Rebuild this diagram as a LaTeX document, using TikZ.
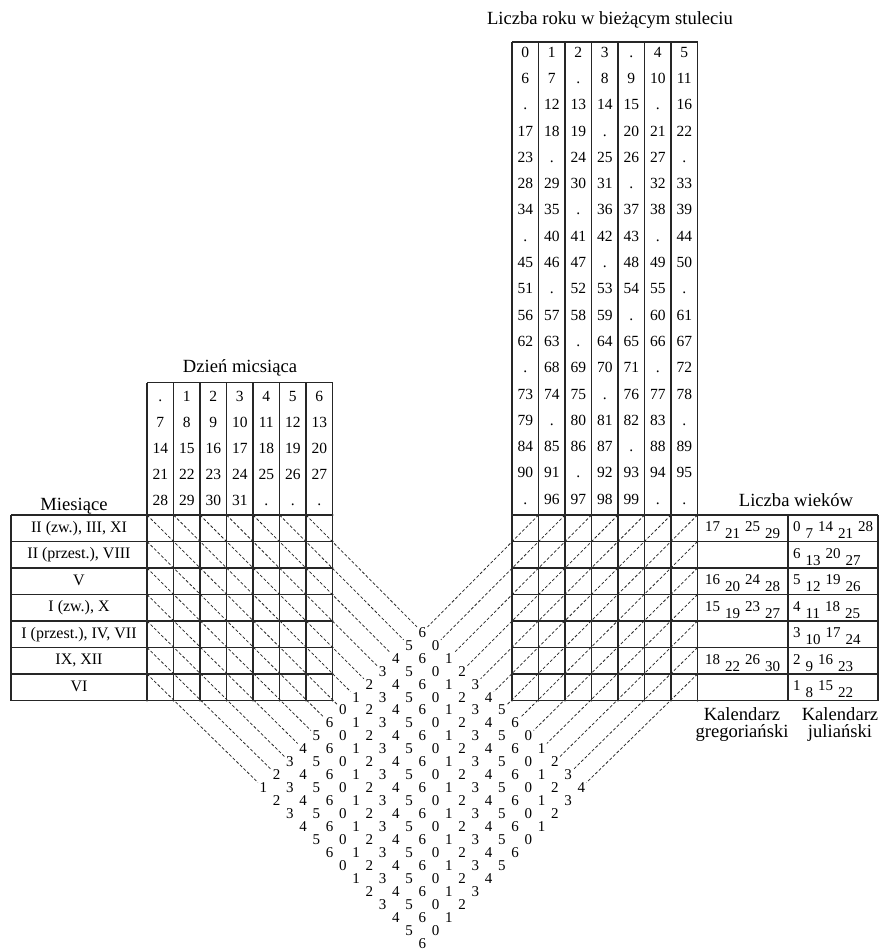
\documentclass[tikz,border=0pt]{standalone}
\usepackage{fontspec}
\setmainfont{Liberation Serif}
\newcommand{\wklo}[1]{\raisebox{-7pt}{#1}}
\newcommand{\wkg}{\hspace{5pt}}
\begin{document}
\begin{tikzpicture}[x=1pt,y=-1pt,
  gridline/.style={line width=1.2pt, draw=black!85},
  diag/.style={line width=0.75pt, dash pattern=on 3pt off 2pt, draw=black!85},
  num/.style={font=\fontsize{15.5}{17}\selectfont, text height=10.5pt, text depth=0pt, inner sep=0pt},
  ttl/.style={font=\fontsize{18.6}{20}\selectfont, inner sep=0pt, anchor=base},
  month/.style={font=\fontsize{16}{18}\selectfont, text height=11pt, text depth=3pt, inner sep=0pt},
  tri/.style={font=\fontsize{15}{17}\selectfont, text height=10pt, text depth=0pt, inner sep=1.4pt},
  wk/.style={font=\fontsize{15}{17}\selectfont, inner sep=0pt, anchor=base west},
  dot/.style={fill=black!80, draw=none},
]
\useasboundingbox (0,0) rectangle (880,950);
\fill[white] (0,0) rectangle (880,950);

% ---------- left: day table + month grid ----------
\foreach \c in {0,...,7} \draw[gridline] ({147+\c*26.5},382.5) -- ({147+\c*26.5},700.5);
\foreach \r in {0,...,7} \draw[gridline] (11,{515+\r*26.5}) -- (332.5,{515+\r*26.5});
\draw[gridline] (147,382.5) -- (332.5,382.5);
\draw[gridline] (11,515) -- (11,700.5);

% ---------- right: year table + grid + centuries ----------
\foreach \c in {0,...,7} \draw[gridline] ({512+\c*26.5},42) -- ({512+\c*26.5},700.5);
\draw[gridline] (512,42) -- (697.5,42);
\foreach \r in {0,...,7} \draw[gridline] (512,{515+\r*26.5}) -- (878,{515+\r*26.5});
\draw[gridline] (788,515) -- (788,700.5);
\draw[gridline] (878,515) -- (878,700.5);

% vertex dots
\foreach \c in {0,...,7} \foreach \r in {0,...,7} {
  \fill[dot] ({147+\c*26.5},{515+\r*26.5}) circle (1.2);
  \fill[dot] ({512+\c*26.5},{515+\r*26.5}) circle (1.2);
}

% ---------- titles ----------
\node[ttl] (tyear) at (610,25) {Liczba roku w bieżącym stuleciu};
\node[ttl] (tday) at (240,372.5) {Dzień micsiąca};
\node[ttl] (tmon) at (74,510) {Miesiące};
\node[ttl] (tcent) at (796,506) {Liczba wieków};
\node[ttl] (kg1) at (742,720) {Kalendarz};
\node[ttl] (kg2) at (742,737) {gregoriański};
\node[ttl] (kj1) at (840,720) {Kalendarz};
\node[ttl] (kj2) at (840,737) {juliański};

% ---------- year table ----------
\foreach \row [count=\k from 0] in {
 {0,1,2,3,.,4,5},{6,7,.,8,9,10,11},{.,12,13,14,15,.,16},{17,18,19,.,20,21,22},
 {23,.,24,25,26,27,.},{28,29,30,31,.,32,33},{34,35,.,36,37,38,39},{.,40,41,42,43,.,44},
 {45,46,47,.,48,49,50},{51,.,52,53,54,55,.},{56,57,58,59,.,60,61},{62,63,.,64,65,66,67},
 {.,68,69,70,71,.,72},{73,74,75,.,76,77,78},{79,.,80,81,82,83,.},{84,85,86,87,.,88,89},
 {90,91,.,92,93,94,95},{.,96,97,98,99,.,.}} {
  \foreach \v [count=\c from 0] in \row {
    \node[num] (y\k-\c) at ({525.25+\c*26.5},{52+\k*26.29}) {\v};
  }
}

% ---------- day table ----------
\foreach \row [count=\k from 0] in {
 {.,1,2,3,4,5,6},{7,8,9,10,11,12,13},{14,15,16,17,18,19,20},{21,22,23,24,25,26,27},{28,29,30,31,.,.,.}} {
  \foreach \v [count=\c from 0] in \row {
    \node[num] (d\k-\c) at ({160.25+\c*26.5},{396.5+\k*26}) {\v};
  }
}

% ---------- months ----------
\foreach \t [count=\k from 0] in {{II (zw.), III, XI},{II (przest.), VIII},{V},{I (zw.), X},{I (przest.), IV, VII},{IX, XII},{VI}} {
  \node[month] (mo\k) at (79,{528.25+\k*26.5}) {\t};
}

% ---------- centuries ----------
\node[wk] (g0) at (705,531.5) {17\wkg\wklo{21}\wkg 25\wkg\wklo{29}};
\node[wk] (g2) at (705,584.5) {16\wkg\wklo{20}\wkg 24\wkg\wklo{28}};
\node[wk] (g3) at (705,611.0) {15\wkg\wklo{19}\wkg 23\wkg\wklo{27}};
\node[wk] (g5) at (705,664.0) {18\wkg\wklo{22}\wkg 26\wkg\wklo{30}};
\node[wk] (j0) at (793,531.5) {0\wkg\wklo{7}\wkg 14\wkg\wklo{21}\wkg 28};
\node[wk] (j1) at (793,558.0) {6\wkg\wklo{13}\wkg 20\wkg\wklo{27}};
\node[wk] (j2) at (793,584.5) {5\wkg\wklo{12}\wkg 19\wkg\wklo{26}};
\node[wk] (j3) at (793,611.0) {4\wkg\wklo{11}\wkg 18\wkg\wklo{25}};
\node[wk] (j4) at (793,637.5) {3\wkg\wklo{10}\wkg 17\wkg\wklo{24}};
\node[wk] (j5) at (793,664.0) {2\wkg\wklo{9}\wkg 16\wkg\wklo{23}};
\node[wk] (j6) at (793,690.5) {1\wkg\wklo{8}\wkg 15\wkg\wklo{22}};

% ---------- diamond of weekday digits ----------
\foreach \m in {1,...,13} \foreach \i in {0,...,12} {
  \pgfmathtruncatemacro{\v}{mod(\m+\i,7)}
  \node[tri] (p\m-\i) at ({329.5+(\m+\i-6)*13.25},{697+(\m-\i+6)*12.95}) {\v};
}

% ---------- diagonal entry points ----------
\foreach \i in {0,...,5} \coordinate (L\i) at (147,{515+(6-\i)*26.5});
\foreach \i in {6,...,12} \coordinate (L\i) at ({147+(\i-6)*26.5},515);
\foreach \m in {1,...,7} \coordinate (R\m) at ({512+\m*26.5},515);
\foreach \m in {8,...,13} \coordinate (R\m) at (697.5,{515+(\m-7)*26.5});

% ---------- dashed diagonals ----------
\foreach \i in {0,...,12} \draw[diag] (L\i) -- (p1-\i);
\foreach \m in {1,...,13} \draw[diag] (R\m) -- (p\m-12);
\end{tikzpicture}
\end{document}
